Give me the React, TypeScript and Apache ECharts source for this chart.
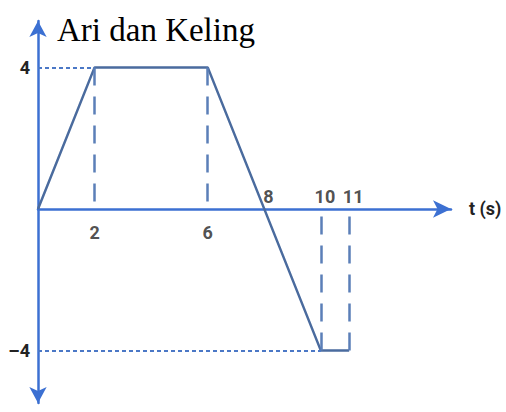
import React, { useEffect, useRef } from "react";
import * as echarts from "echarts";

const titleText = "Ari dan Keling";
const axisName = "t (s)";
const tValues = [0, 2, 6, 10, 11];
const vValues = [0, 4, 4, -4, -4];
const xLabelsBelow = [2, 6];
const xLabelsAbove = [8, 10, 11];
const yLabels = [4, -4];
const dashedGuideT = [2, 6, 10, 11];
const dottedGuideV = [4, -4];

const AXIS_BLUE = "#3c70d2";
const LINE_BLUE = "#4a6b9e";
const DASH_BLUE = "#5b7fb8";
const DOT_BLUE = "#4b78c6";
const LABEL_FONT = "Roboto, 'Liberation Sans', sans-serif";

export default function App() {
  const ref = useRef<HTMLDivElement>(null);
  useEffect(() => {
    if (!ref.current) return;
    const chart = echarts.init(ref.current, null, { renderer: "svg" });
    const points = tValues.map((t, i) => [t, vValues[i]]);
    const valueAt = (t: number) => vValues[tValues.indexOf(t)];
    const firstTAt = (v: number) => tValues[vValues.indexOf(v)];

    const markData: any[] = [];
    dashedGuideT.forEach((t) => {
      markData.push([
        { coord: [t, valueAt(t)], lineStyle: { type: [18, 11], color: DASH_BLUE, width: 2.5 } },
        { coord: [t, 0] },
      ]);
    });
    dottedGuideV.forEach((v) => {
      markData.push([
        { coord: [0, v], lineStyle: { type: [4, 3], color: DOT_BLUE, width: 2 } },
        { coord: [firstTAt(v), v] },
      ]);
    });

    const labelStyle = {
      fontFamily: LABEL_FONT,
      fontSize: 18,
      fontWeight: "bold" as const,
      color: "#232323",
    };

    chart.setOption({
      animation: false,
      title: {
        text: titleText,
        left: 57,
        top: 13,
        padding: 0,
        textStyle: {
          fontFamily: "'Liberation Serif', 'Times New Roman', serif",
          fontSize: 33,
          fontWeight: "normal",
          color: "#000",
        },
      },
      grid: { left: 38, right: 55, top: 21, bottom: 9, containLabel: false },
      xAxis: {
        type: "value",
        min: 0,
        max: 14.6,
        name: axisName,
        nameLocation: "end",
        nameGap: 18,
        nameTextStyle: { ...labelStyle },
        axisLine: {
          show: true,
          onZero: true,
          symbol: ["none", "arrow"],
          symbolSize: [13, 18],
          lineStyle: { color: AXIS_BLUE, width: 2.5 },
        },
        axisTick: { show: false },
        splitLine: { show: false },
        axisLabel: { show: false },
      },
      yAxis: {
        type: "value",
        min: -5.48,
        max: 5.31,
        axisLine: {
          show: true,
          onZero: true,
          symbol: ["arrow", "arrow"],
          symbolSize: [13, 16],
          lineStyle: { color: AXIS_BLUE, width: 2.5 },
        },
        axisTick: { show: false },
        splitLine: { show: false },
        axisLabel: {
          customValues: yLabels,
          margin: 8,
          formatter: (v: number) => (v < 0 ? "\u2013" + Math.abs(v) : String(v)),
          ...labelStyle,
        },
      },
      series: [
        {
          type: "line",
          data: points,
          showSymbol: false,
          symbol: "none",
          lineStyle: { color: LINE_BLUE, width: 2.5 },
          z: 3,
          markLine: {
            silent: true,
            symbol: ["none", "none"],
            label: { show: false },
            animation: false,
            data: markData,
          },
        },
        {
          type: "scatter",
          data: xLabelsBelow.map((t) => [t, 0]),
          symbolSize: 0,
          silent: true,
          label: {
            show: true,
            position: "bottom",
            distance: 15,
            formatter: (p: any) => String(p.value[0]),
            ...labelStyle,
          },
        },
        {
          type: "scatter",
          data: xLabelsAbove.map((t) => [t, 0]),
          symbolSize: 0,
          silent: true,
          label: {
            show: true,
            position: "top",
            distance: 3,
            offset: [4, 0],
            formatter: (p: any) => String(p.value[0]),
            ...labelStyle,
          },
        },
      ],
    });
    return () => chart.dispose();
  }, []);
  return (
    <div
      ref={ref}
      style={{ position: "absolute", left: 0, top: 0, width: 506, height: 412 }}
    />
  );
}
